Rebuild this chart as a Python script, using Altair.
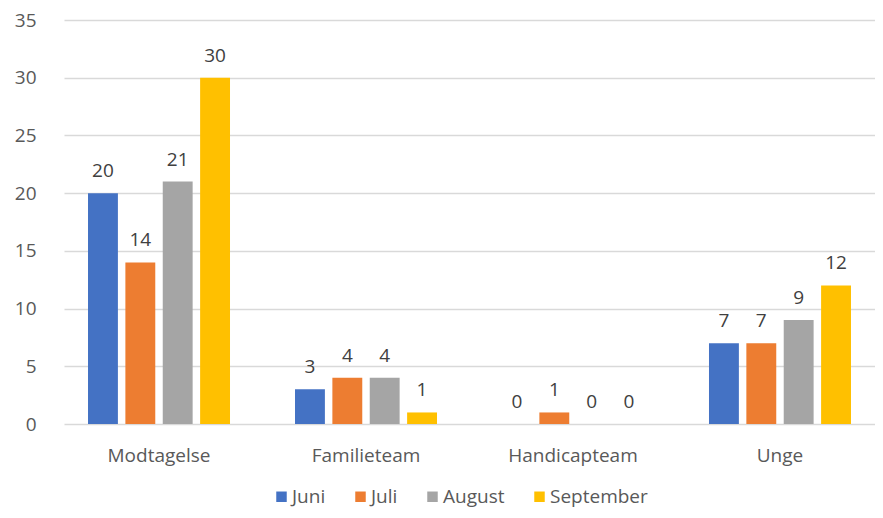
import altair as alt
import pandas as pd

categories = ["Modtagelse", "Familieteam", "Handicapteam", "Unge"]
months = ["Juni", "Juli", "August", "September"]
juni = [20, 3, 0, 7]
juli = [14, 4, 1, 7]
august = [21, 4, 0, 9]
september = [30, 1, 0, 12]
colors = ["#4472C4", "#ED7D31", "#A5A5A5", "#FFC000"]

rows = []
for m, vals in zip(months, [juni, juli, august, september]):
    for c, v in zip(categories, vals):
        rows.append({"Kategori": c, "Måned": m, "Antal": v})
df = pd.DataFrame(rows)

FONT = "Open Sans"
TXT = "#595959"

base = alt.Chart(df).encode(
    x=alt.X("Kategori:N", sort=categories, title=None,
            scale=alt.Scale(paddingInner=0.314, paddingOuter=0.116),
            axis=alt.Axis(labelAngle=0, ticks=False, domain=False, labelPadding=22,
                          labelFontSize=19, labelColor=TXT, labelFont=FONT)),
    xOffset=alt.XOffset("Måned:N", sort=months, scale=alt.Scale(paddingInner=0.2)),
    y=alt.Y("Antal:Q", title=None,
            scale=alt.Scale(domain=[0, 35]),
            axis=alt.Axis(values=[0, 5, 10, 15, 20, 25, 30, 35], domain=False, ticks=False,
                          gridColor="#D9D9D9", gridWidth=1.5, labelPadding=28,
                          labelFontSize=19, labelColor=TXT, labelFont=FONT)),
)

bars = base.mark_bar().encode(
    color=alt.Color("Måned:N", sort=months, title=None,
                    scale=alt.Scale(domain=months, range=colors),
                    legend=alt.Legend(orient="none", direction="horizontal",
                                      legendX=208, legendY=467,
                                      symbolType="square", symbolSize=110,
                                      symbolStrokeWidth=0,
                                      labelFontSize=19, labelColor=TXT, labelFont=FONT,
                                      columnPadding=25, labelOffset=1))
)

labels = base.mark_text(baseline="bottom", dy=-12, fontSize=19, color="#404040", font=FONT).encode(
    text="Antal:Q"
)

chart = alt.layer(bars, labels).properties(
    width=811, height=404,
    padding={"left": 56, "top": 12, "right": 0, "bottom": 86},
    autosize=alt.AutoSizeParams(type="none"),
).configure_view(stroke=None)

chart.save("out.html", embed_options={"renderer": "svg", "actions": False})
